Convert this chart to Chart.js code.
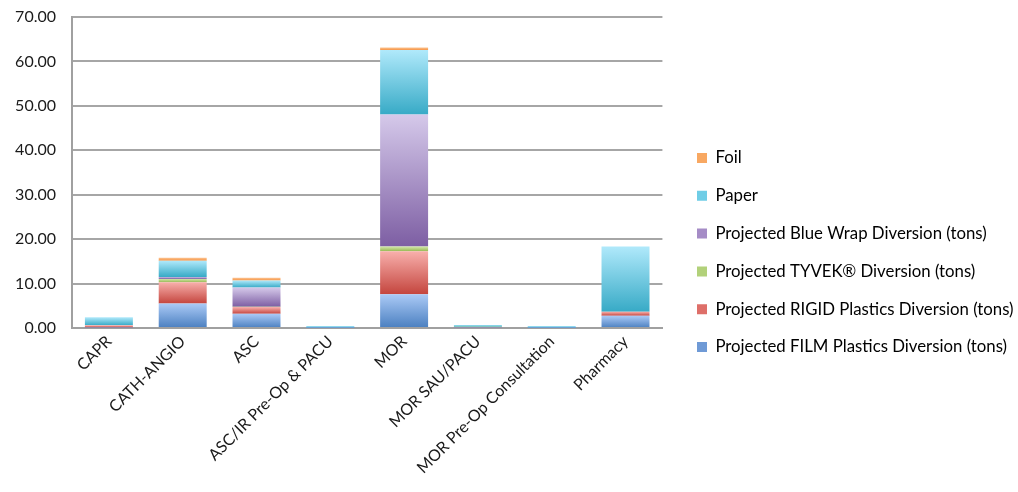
<!DOCTYPE html>
<html>
<head>
<meta charset="utf-8">
<script src="https://cdn.jsdelivr.net/npm/chart.js@4"></script>
<style>
    html, body { margin: 0; padding: 0; background: #ffffff; }
    #wrap { width: 1018px; height: 492px; position: relative; }
</style>
</head>
<body>
<div id="wrap"><canvas id="divChart"></canvas></div>
<script>
// Datos (toneladas)
const categories = ['CAPR', 'CATH-ANGIO', 'ASC', 'ASC/IR Pre-Op & PACU', 'MOR', 'MOR SAU/PACU', 'MOR Pre-Op Consultation', 'Pharmacy'];
const film     = [0.1, 5.5, 3.2, 0.05, 7.6, 0.1, 0.05, 2.75];
const rigid    = [0.5, 4.8, 1.5, 0,    9.7, 0.1, 0,    0.9];
const tyvek    = [0,   0.75, 0.1, 0,   1.05, 0.1, 0,   0];
const blueWrap = [0,   0.45, 4.3, 0,   29.7, 0,   0,   0];
const paper    = [1.8, 3.65, 1.6, 0.4, 14.5, 0.4, 0.4, 14.7];
const foil     = [0,   0.65, 0.6, 0,   0.6,  0,   0,   0];
const yTicks   = [0, 10, 20, 30, 40, 50, 60, 70];

const seriesNames = [
    'Projected FILM Plastics Diversion (tons)',
    'Projected RIGID Plastics Diversion (tons)',
    'Projected TYVEK® Diversion (tons)',
    'Projected Blue Wrap Diversion (tons)',
    'Paper',
    'Foil'
];
const seriesData = [film, rigid, tyvek, blueWrap, paper, foil];

// colores: [claro arriba, oscuro abajo, muestra de leyenda]
const seriesColors = [
    ['#abcaf6', '#4a7fc0', '#6f9ad6'],
    ['#f8b0ac', '#c4453e', '#de6f69'],
    ['#d4e8ab', '#98b955', '#b2d17a'],
    ['#d5c9ea', '#7d5ea3', '#a58cc6'],
    ['#b0e9fb', '#37aac6', '#6fcde6'],
    ['#fcc492', '#f59242', '#f8a862']
];

// Degradado vertical para cada segmento de la barra
function segmentGradient(context) {
    const chart = context.chart;
    const ds = context.datasetIndex;
    const i = context.dataIndex;
    const cols = seriesColors[ds];
    const yScale = chart.scales.y;
    if (!yScale || i === undefined) return cols[2];
    let base = 0;
    for (let k = 0; k < ds; k++) base += seriesData[k][i];
    const top = base + seriesData[ds][i];
    const y0 = yScale.getPixelForValue(top);
    const y1 = yScale.getPixelForValue(base);
    if (!isFinite(y0) || !isFinite(y1) || y1 - y0 < 0.5) return cols[2];
    const g = chart.ctx.createLinearGradient(0, y0, 0, y1);
    g.addColorStop(0, cols[0]);
    g.addColorStop(1, cols[1]);
    return g;
}

const datasets = seriesNames.map((name, k) => ({
    label: name,
    data: seriesData[k],
    backgroundColor: segmentGradient,
    borderWidth: 0,
    categoryPercentage: 1,
    barPercentage: 0.65
}));

const font = "Lato, 'Open Sans', sans-serif";

// Separar un poco la leyenda del área del gráfico
const legendShift = {
    id: 'legendShift',
    afterLayout(chart) {
        const lg = chart.legend;
        if (!lg) return;
        const dx = 676 - lg.left;
        lg.left += dx;
        lg.right += dx;
        lg.top -= 2;
        lg.bottom -= 2;
    }
};

new Chart(document.getElementById('divChart'), {
    type: 'bar',
    data: { labels: categories, datasets: datasets },
    plugins: [legendShift],
    options: {
        responsive: true,
        maintainAspectRatio: false,
        animation: false,
        layout: { padding: { top: 17, right: 8, left: 0, bottom: 0 } },
        plugins: {
            tooltip: { enabled: false },
            legend: {
                position: 'right',
                reverse: true,
                maxWidth: 400,
                labels: {
                    boxWidth: 10,
                    boxHeight: 10,
                    padding: 21,
                    color: '#1a1a1a',
                    font: { family: font, size: 16.8 },
                    generateLabels: function(chart) {
                        return chart.data.datasets.map((d, k) => ({
                            text: d.label,
                            fillStyle: seriesColors[k][2],
                            strokeStyle: seriesColors[k][2],
                            lineWidth: 0,
                            datasetIndex: k,
                            hidden: false
                        }));
                    }
                }
            }
        },
        scales: {
            x: {
                stacked: true,
                grid: { display: false, drawTicks: false },
                border: { color: '#a0a0a0', width: 2 },
                ticks: {
                    color: '#1a1a1a',
                    font: { family: font, size: 16 },
                    minRotation: 45,
                    maxRotation: 45,
                    padding: 4
                },
                afterFit: function(scale) { scale.height = 164; }
            },
            y: {
                stacked: true,
                min: 0,
                max: 70,
                afterBuildTicks: function(scale) {
                    scale.ticks = yTicks.map(v => ({ value: v }));
                },
                grid: { color: '#a6a6a6', lineWidth: 2, drawTicks: false },
                border: { color: '#a0a0a0', width: 2 },
                ticks: {
                    color: '#1a1a1a',
                    font: { family: font, size: 16 },
                    padding: 16,
                    callback: function(value) { return Number(value).toFixed(2); }
                },
                afterFit: function(scale) {
                    scale.width = 72;
                    scale.paddingTop = 0;
                    scale.paddingBottom = 0;
                }
            }
        }
    }
});
</script>
</body>
</html>
